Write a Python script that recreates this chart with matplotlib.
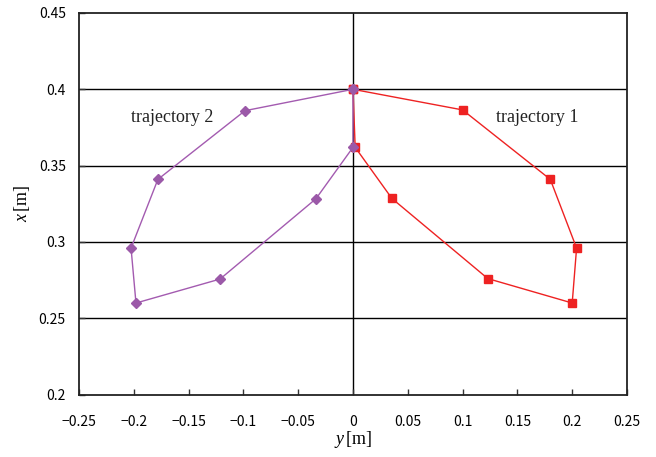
import numpy as np
import matplotlib as mpl
mpl.use('Agg')
from matplotlib import pyplot as plt

mpl.rcParams['mathtext.fontset'] = 'custom'
mpl.rcParams['mathtext.it'] = 'Liberation Serif:italic'
mpl.rcParams['mathtext.rm'] = 'Liberation Serif'

# trajectory data (y [m], x [m])
t1_y = [0.0, 0.100, 0.180, 0.204, 0.200, 0.123, 0.0355, 0.002, 0.0]
t1_x = [0.400, 0.3865, 0.341, 0.296, 0.260, 0.276, 0.3285, 0.362, 0.400]
t2_y = [0.0, -0.0985, -0.178, -0.2025, -0.198, -0.1213, -0.0338, 0.0, 0.0]
t2_x = [0.400, 0.386, 0.341, 0.296, 0.260, 0.2757, 0.3283, 0.362, 0.400]

xticks = np.arange(-0.25, 0.2501, 0.05)
yticks = np.arange(0.2, 0.4501, 0.05)
xtick_labels = ['\u22120.25', '\u22120.2', '\u22120.15', '\u22120.1', '\u22120.05', '0',
                '0.05', '0.1', '0.15', '0.2', '0.25']
ytick_labels = ['0.2', '0.25', '0.3', '0.35', '0.4', '0.45']

tickfont = ['Noto Sans CJK JP', 'DejaVu Sans']
serif = 'Liberation Serif'

fig = plt.figure(figsize=(6.56, 4.57), dpi=100)
ax = fig.add_axes([0.1204, 0.1365, 0.8354, 0.8351])

# grid lines at inner y ticks and the y=0 line
for v in yticks[1:-1]:
    ax.axhline(v, color='black', lw=1.0, zorder=1)
ax.axvline(0, color='black', lw=1.0, zorder=1)

ax.plot(t2_y, t2_x, color='#a35bb0', lw=1.0, marker='D', ms=5.5,
        markerfacecolor='#9b59a8', markeredgecolor='#9b59a8', zorder=3)
ax.plot(t1_y, t1_x, color='#ee2222', lw=1.0, marker='s', ms=6,
        markerfacecolor='#ee2222', markeredgecolor='#ee2222', zorder=2)

ax.text(-0.165, 0.3815, 'trajectory 2', fontsize=13, family=serif,
        color='#222222', ha='center', va='center')
ax.text(0.168, 0.3815, 'trajectory 1', fontsize=13, family=serif,
        color='#222222', ha='center', va='center')

ax.set_xlim(-0.25, 0.25)
ax.set_ylim(0.2, 0.45)
ax.set_xticks(xticks)
ax.set_yticks(yticks)
ax.set_xticklabels(xtick_labels, family=tickfont, fontsize=10)
ax.set_yticklabels(ytick_labels, family=tickfont, fontsize=10)
ax.tick_params(direction='in', length=4, width=1, color='#333333')
ax.tick_params(axis='x', pad=15)
ax.tick_params(axis='y', pad=9.5)
for s in ax.spines.values():
    s.set_linewidth(1.3)
    s.set_color('#222222')

ax.set_xlabel('$y\\,$[m]', fontsize=13, family=serif, labelpad=0)
ax.set_ylabel('$x\\,$[m]', fontsize=13, family=serif, labelpad=5)

plt.savefig('out.png', dpi=100)
